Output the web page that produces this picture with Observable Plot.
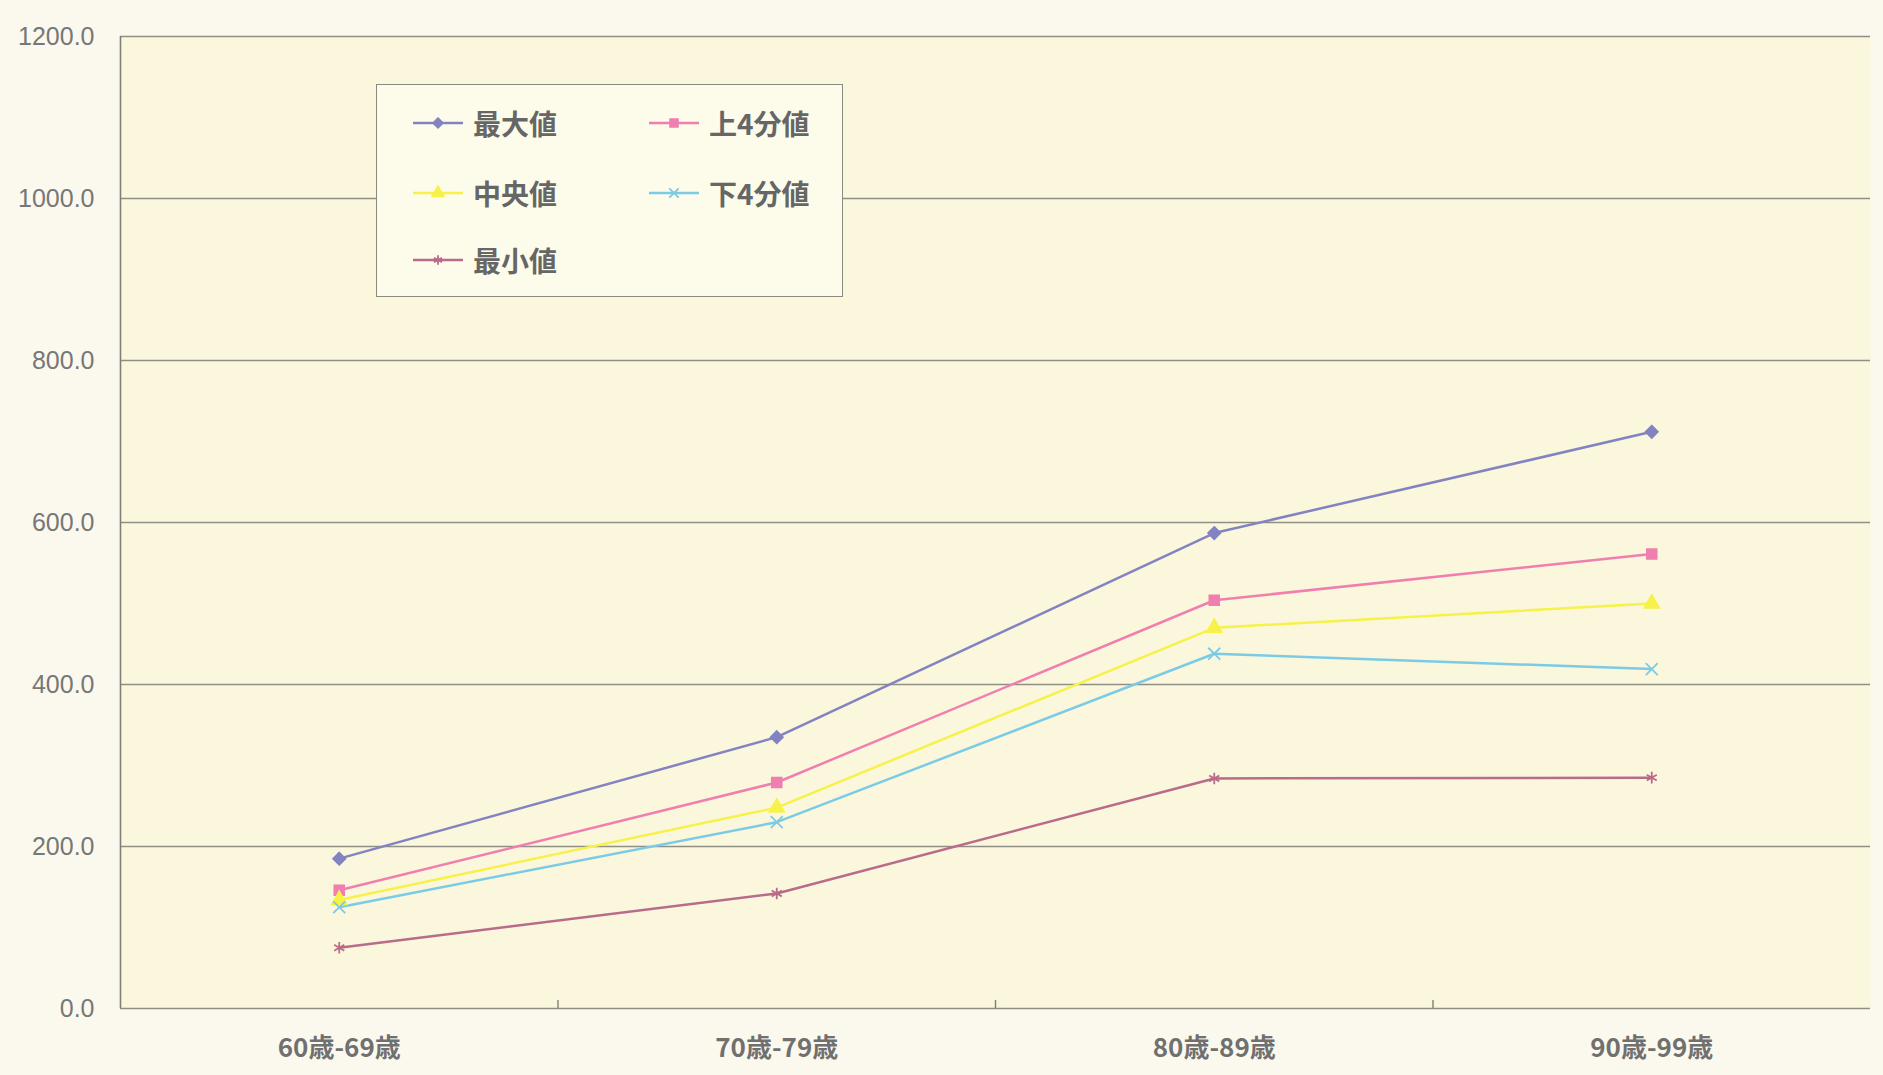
<!DOCTYPE html>
<html><head><meta charset="utf-8">
<script src="https://cdn.jsdelivr.net/npm/d3@7"></script>
<script src="https://cdn.jsdelivr.net/npm/@observablehq/plot@0.6"></script>
<style>
html,body{margin:0;padding:0;background:#fbf9ee;}
#wrap{position:relative;width:1883px;height:1075px;font-family:"Liberation Sans","Noto Sans CJK JP",sans-serif;}
#legend{position:absolute;left:376px;top:84px;width:465px;height:211px;border:1.5px solid #8a8a80;background:#fdfbe9;}
.item{position:absolute;display:flex;align-items:center;font-size:28px;color:#666;font-weight:bold;font-family:"Noto Sans CJK JP",sans-serif;}
.item svg{margin-right:10px;}
</style></head>
<body><div id="wrap"></div>
<script>
const categories = ["60歳-69歳", "70歳-79歳", "80歳-89歳", "90歳-99歳"];
const seriesNames = ["最大値", "上4分値", "中央値", "下4分値", "最小値"];
const maxVals = [185, 335, 587, 712];
const upperQuartVals = [146, 279, 504, 561];
const medianVals = [134, 248, 470, 500];
const lowerQuartVals = [125, 230, 438, 419];
const minVals = [75, 142, 284, 285];
const yTicks = [0, 200, 400, 600, 800, 1000, 1200];

const colors = ["#8383c2", "#f07fb0", "#f6f24a", "#7ccbe6", "#b86b8a"];
const symbols = ["diamond2", "square", "triangle", "times", "asterisk"];
const allVals = [maxVals, upperQuartVals, medianVals, lowerQuartVals, minVals];

const data = [];
allVals.forEach((vals, s) => vals.forEach((v, i) => data.push({series: seriesNames[s], i, v})));

const chart = Plot.plot({
  width: 1883, height: 1075,
  marginLeft: 120, marginRight: 13, marginTop: 36, marginBottom: 67,
  style: {background: "transparent", fontFamily: "'Liberation Sans','Noto Sans CJK JP',sans-serif"},
  x: {domain: [-0.5, 3.5], axis: null},
  y: {domain: [0, 1200], axis: null},
  color: {domain: seriesNames, range: colors},
  symbol: {domain: seriesNames, range: symbols},
  marks: [
    Plot.frame({fill: "#fbf7dc", stroke: null}),
    Plot.ruleY(yTicks, {stroke: "#8f8f85", strokeWidth: 1.6}),
    Plot.ruleX([-0.5], {stroke: "#7f7f78", strokeWidth: 1.6}),
    Plot.ruleX([0.5, 1.5, 2.5], {y1: 0, y2: 10, stroke: "#7f7f78", strokeWidth: 1.4}),
    Plot.text(yTicks, {x: -0.5, y: d => d, text: d => d.toFixed(1), textAnchor: "end", dx: -26, fontSize: 25, fill: "#777", fontFamily: "'Liberation Sans Narrow','Liberation Sans',sans-serif"}),
    Plot.text(categories, {x: (d, i) => i, y: 0, text: d => d, dy: 40, fontSize: 26, fontWeight: "bold", fill: "#707070", fontFamily: "'Noto Sans CJK JP',sans-serif"}),
    Plot.line(data, {x: "i", y: "v", z: "series", stroke: "series", strokeWidth: 2.5}),
    Plot.dot(data, {x: "i", y: "v", symbol: "series", fill: "series", stroke: "series", r: 5.5, strokeWidth: 1.8})
  ]
});
const wrap = document.getElementById("wrap");
wrap.appendChild(chart);

const legend = document.createElement("div");
legend.id = "legend";
const pos = [[36, 38], [272, 38], [36, 108], [272, 108], [36, 175]];
seriesNames.forEach((name, k) => {
  const it = document.createElement("div");
  it.className = "item";
  it.style.left = pos[k][0] + "px";
  it.style.top = (pos[k][1] - 20) + "px";
  const sym = d3.symbol().type([d3.symbolDiamond2, d3.symbolSquare, d3.symbolTriangle, d3.symbolTimes, d3.symbolAsterisk][k]).size(60)();
  it.innerHTML = `<svg width="50" height="40"><line x1="0" y1="20" x2="50" y2="20" stroke="${colors[k]}" stroke-width="2.4"/><path d="${sym}" transform="translate(25,20)" fill="${colors[k]}" stroke="${colors[k]}" stroke-width="1.8"/></svg><span>${name}</span>`;
  legend.appendChild(it);
});
wrap.appendChild(legend);
</script></body></html>
